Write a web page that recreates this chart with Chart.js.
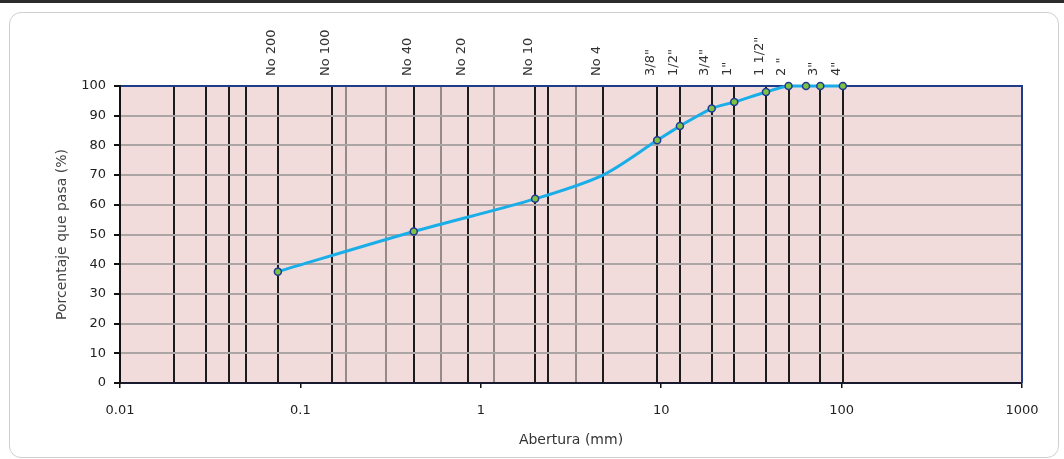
<!DOCTYPE html>
<html>
<head>
<meta charset="utf-8">
<script src="https://cdn.jsdelivr.net/npm/chart.js@4.4.0/dist/chart.umd.min.js"></script>
<style>
  body { margin: 0; background: #fff; }
  #wrap { position: relative; width: 1064px; height: 459px; overflow: hidden; }
  #bar { position: absolute; left: 0; top: 0; width: 1064px; height: 3px; background: #2b2b2b; }
  #frame { position: absolute; left: 9px; top: 12px; width: 1050px; height: 446px; border: 1.5px solid #cfcfcf; border-radius: 12px; box-sizing: border-box; }
  canvas { position: absolute; left: 0; top: 0; }
</style>
</head>
<body>
<div id="wrap">
  <div id="bar"></div>
  <div id="frame"></div>
  <canvas id="granulometria" width="1064" height="459"></canvas>
</div>
<script>
// sieve openings (mm) drawn as vertical lines, with their names on top
const sieveSizes = [0.02, 0.03, 0.04, 0.05, 0.075, 0.15, 0.18, 0.3, 0.425, 0.6, 0.85, 1.18, 2.0, 2.36, 3.35, 4.75, 9.5, 12.7, 19.05, 25.4, 38.1, 50.8, 76.2, 101.6];
const sieveLabels = ['', '', '', '', 'No 200', 'No 100', '', '', 'No 40', '', 'No 20', '', 'No 10', '', '', 'No 4', '3/8"', '1/2"', '3/4"', '1"', '1 1/2"', '2 "', '3"', '4"'];
const lightSieves = [0.18, 0.3, 0.6, 1.18, 3.35];

const decadeTicks = [0.01, 0.1, 1, 10, 100, 1000];
const percentTicks = [0, 10, 20, 30, 40, 50, 60, 70, 80, 90, 100];

// grading curve
const aperture = [0.075, 0.425, 2.0, 4.75, 9.5, 12.7, 19.05, 25.4, 38.1, 50.8, 63.5, 76.2, 101.6];
const passing = [37.5, 51, 62, 70, 81.7, 86.5, 92.4, 94.6, 98, 100, 100, 100, 100];
const noMarker = [4.75];

const font = 'DejaVu Sans';

const plotBackground = {
  id: 'plotBackground',
  beforeDraw(chart) {
    const { ctx, chartArea: a } = chart;
    ctx.save();
    ctx.fillStyle = '#f2dcdb';
    ctx.fillRect(a.left, a.top, a.right - a.left, a.bottom - a.top);
    ctx.restore();
  },
  beforeDatasetsDraw(chart) {
    const { ctx, chartArea: a } = chart;
    ctx.save();
    ctx.strokeStyle = '#1f3c88';
    ctx.lineWidth = 2;
    ctx.beginPath();
    ctx.moveTo(a.right, a.top - 1);
    ctx.lineTo(a.right, a.bottom);
    ctx.stroke();
    ctx.restore();
  }
};

const ctx = document.getElementById('granulometria').getContext('2d');
const chart = new Chart(ctx, {
  type: 'line',
  data: {
    datasets: [{
      data: aperture.map((a, i) => ({ x: a, y: passing[i] })),
      borderColor: '#1aaee8',
      borderWidth: 3,
      tension: 0.3,
      pointRadius: c => noMarker.includes(aperture[c.dataIndex]) ? 0 : 3.5,
      pointBackgroundColor: '#7dc242',
      pointBorderColor: '#1f3a93',
      pointBorderWidth: 1.5,
      clip: false,
      xAxisID: 'x',
      yAxisID: 'y'
    }]
  },
  options: {
    responsive: false,
    animation: false,
    layout: { padding: { left: 0, right: 42, top: 0, bottom: 0 } },
    plugins: {
      legend: { display: false },
      tooltip: { enabled: false }
    },
    scales: {
      x: {
        type: 'logarithmic',
        position: 'bottom',
        min: 0.01,
        max: 1000,
        afterBuildTicks: s => { s.ticks = decadeTicks.map(v => ({ value: v })); },
        afterFit: s => { s.height = 76; },
        ticks: {
          autoSkip: false,
          maxRotation: 0,
          padding: 15,
          color: '#222',
          font: { family: font, size: 13 },
          callback: (v, i) => String(decadeTicks[i])
        },
        grid: { drawOnChartArea: false, tickLength: 5, tickColor: '#111', lineWidth: 1.5 },
        border: { color: '#1a1a2e', width: 2 },
        title: {
          display: true,
          text: 'Abertura (mm)',
          color: '#333',
          font: { family: font, size: 14 },
          padding: { top: 0, bottom: 10 }
        }
      },
      xTop: {
        type: 'logarithmic',
        position: 'top',
        min: 0.01,
        max: 1000,
        afterBuildTicks: s => { s.ticks = sieveSizes.map(v => ({ value: v })); },
        afterFit: s => { s.height = 86; },
        ticks: {
          autoSkip: false,
          minRotation: 90,
          maxRotation: 90,
          padding: 10,
          labelOffset: 9,
          color: '#333',
          font: { family: font, size: 13 },
          callback: (v, i) => sieveLabels[i]
        },
        grid: {
          drawTicks: false,
          lineWidth: 2,
          color: c => lightSieves.includes(c.tick && c.tick.value) ? '#948a8a' : '#1c1c1c'
        },
        border: { color: '#1f3c88', width: 2 }
      },
      y: {
        min: 0,
        max: 100,
        afterBuildTicks: s => { s.ticks = percentTicks.map(v => ({ value: v })); },
        afterFit: s => { s.width = 120; },
        ticks: {
          padding: 8,
          color: '#222',
          font: { family: font, size: 13 }
        },
        grid: { color: '#aca5a5', lineWidth: 2, tickLength: 6, tickColor: '#111' },
        border: { color: '#111', width: 2 },
        title: {
          display: true,
          text: 'Porcentaje que pasa (%)',
          color: '#444',
          font: { family: font, size: 14 },
          padding: { top: 54, bottom: 0 }
        }
      }
    }
  },
  plugins: [plotBackground]
});
</script>
</body>
</html>
